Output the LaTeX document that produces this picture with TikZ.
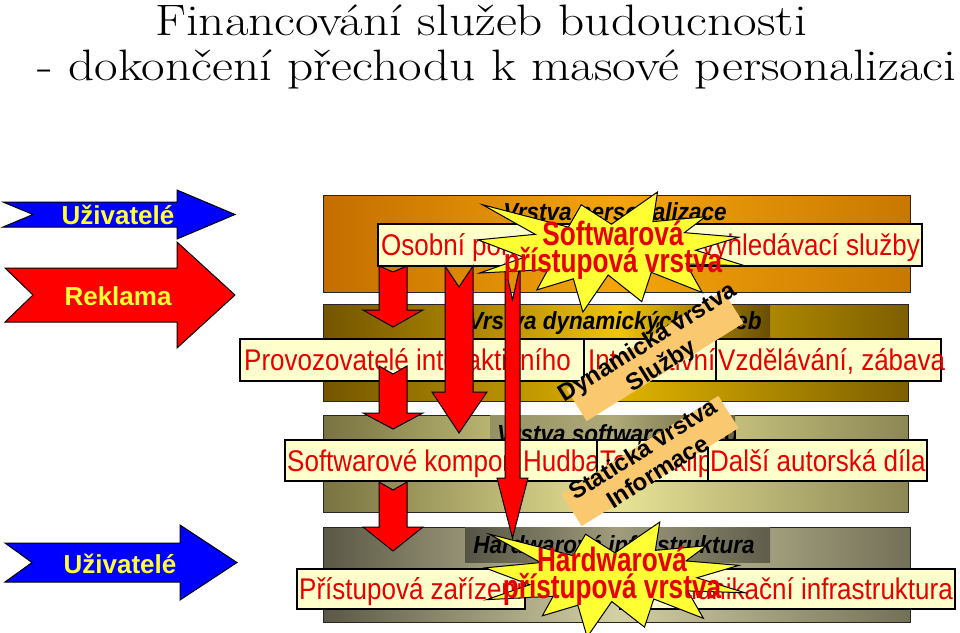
\documentclass[tikz,border=0pt]{standalone}
\usepackage{graphicx}
\usepackage{fontspec}
\setsansfont{Liberation Sans}
\definecolor{creamc}{RGB}{255,255,204}
\definecolor{redt}{RGB}{230,0,0}
\definecolor{ylab}{RGB}{255,255,51}
\definecolor{bannerc}{RGB}{250,200,110}
\definecolor{starc}{RGB}{255,255,51}
\definecolor{arrblue}{RGB}{0,0,255}
\definecolor{arrred}{RGB}{255,0,0}
\definecolor{l1a}{RGB}{195,110,0}\definecolor{l1b}{RGB}{245,165,10}\definecolor{l1c}{RGB}{200,120,0}
\definecolor{l2a}{RGB}{115,85,0}\definecolor{l2b}{RGB}{225,180,0}\definecolor{l2c}{RGB}{125,95,0}
\definecolor{h2a}{RGB}{170,130,0}\definecolor{h2b}{RGB}{240,195,10}\definecolor{h2c}{RGB}{105,78,0}
\definecolor{l3a}{RGB}{120,115,65}\definecolor{l3b}{RGB}{232,228,150}\definecolor{l3c}{RGB}{140,135,85}
\definecolor{h3a}{RGB}{150,145,100}\definecolor{h3b}{RGB}{175,170,120}\definecolor{h3c}{RGB}{105,100,65}
\definecolor{l4a}{RGB}{90,88,70}\definecolor{l4b}{RGB}{212,208,165}\definecolor{l4c}{RGB}{115,112,88}
\definecolor{h4a}{RGB}{85,83,68}\definecolor{h4b}{RGB}{160,156,125}\definecolor{h4c}{RGB}{95,93,75}
\newcommand\rdarrow[8]{%
  \draw[redarr] (#1,#3) -- ({(#1+#2)/2},{#3+#4}) -- (#2,#3) -- (#2,#5) -- (#7,#5) -- ({(#1+#2)/2},#8) -- (#6,#5) -- (#1,#5) -- cycle;}
\newcommand\burstpath{(108,58) -- (145.22,0) -- (141.55,53.25) -- (183.8,44.57) -- (167.02,73.15) -- (210.97,81.37) -- (176.07,104.75) -- (216,132.9) -- (168.37,129.42) -- (181.45,180.95) -- (140.2,144.57) -- (132.47,197.37) -- (105.32,149.35) -- (84.85,216) -- (77.15,156.27) -- (47.62,176.17) -- (56.67,139.37) -- (1.35,145.87) -- (37.22,117.75) -- (0,86.15) -- (46.27,76.17) -- (3.7,22.95) -- (73.12,63.2) -- (83.52,22.95) -- cycle}
\newcommand\tl[1]{\scalebox{1}[1.15]{#1}}
\newcommand\tlh[1]{\scalebox{1}[1.1]{#1}}
\newcommand\tls[1]{\scalebox{0.97}[1.25]{#1}}
\newcommand\wide[1]{\scalebox{1.165}[1]{#1}}
\begin{document}
\begin{tikzpicture}[x=1pt,y=-1pt,
  layer/.style={draw=black!85,line width=0.8pt},
  cream/.style={draw=black,line width=1.2pt,fill=creamc},
  ctext/.style={font=\sffamily\fontsize{26}{28}\selectfont,text=redt,inner sep=0pt},
  htext/.style={font=\sffamily\bfseries\itshape\fontsize{22.5}{24}\selectfont,text=black,inner sep=0pt},
  atext/.style={font=\sffamily\bfseries\fontsize{26}{28}\selectfont,text=ylab,inner sep=0pt},
  stext/.style={font=\sffamily\bfseries\fontsize{27}{29}\selectfont,text=redt,inner sep=0pt,align=center},
  band/.style={fill=bannerc,minimum width=185pt,minimum height=38pt,inner sep=0pt,rotate=32},
  bantext/.style={inner sep=0pt,rotate=32,font=\sffamily\bfseries\fontsize{24}{27}\selectfont,text=black,align=center},
  blockarrow/.style={draw=black,line width=1pt,line join=miter},
  redarr/.style={draw=black,line width=1pt,fill=arrred,line join=miter},
  burst/.style={draw=black,line width=1pt,fill=starc,line join=miter}
]
\useasboundingbox (0,0) rectangle (960,632);
\fill[white] (0,0) rectangle (960,632);
% title
\node[font=\fontsize{44}{50}\selectfont, anchor=base, inner sep=0pt] (t1) at (481,35) {\wide{Financování služeb budoucnosti}};
\node[font=\fontsize{44}{50}\selectfont, anchor=base, inner sep=0pt] (t2) at (497,80) {\wide{- dokončení přechodu k masové personalizaci}};
% left arrows
\draw[blockarrow,fill=arrblue] (3,202) -- (177,202) -- (177,190) -- (235,214.5) -- (177,239) -- (177,227) -- (3,227) -- (33,214.5) -- cycle;
\node[atext] (u1) at (118,215) {Uživatelé};
\draw[blockarrow,fill=arrred] (5,268) -- (177,268) -- (177,242) -- (235,295) -- (177,348) -- (177,322) -- (5,322) -- (33,295) -- cycle;
\node[atext] (rk) at (118,296) {Reklama};
\draw[blockarrow,fill=arrblue] (5,543) -- (180,543) -- (180,525) -- (237,562.5) -- (180,600) -- (180,582) -- (5,582) -- (32,562.5) -- cycle;
\node[atext] (u2) at (120,564) {Uživatelé};
% layer 1
\draw[layer,left color=l1a,right color=l1c,middle color=l1b] (323,195) rectangle (910,292);
\node[htext] (h1) at (615,214) {\tlh{Vrstva personalizace}};
\draw[cream] (378,224) rectangle (655,266);
\node[ctext,anchor=base west] (c11) at (381,255) {\tl{Osobní poradci}};
\draw[cream] (655,224) rectangle (922,266);
\node[ctext,anchor=base east] (c12) at (920,255) {\tl{vyhledávací služby}};
% layer 2
\draw[layer,left color=l2a,right color=l2c,middle color=l2b] (323,304) rectangle (908,401);
\fill[left color=h2a,right color=h2c,middle color=h2b] (468,305) rectangle (770,338);
\node[htext] (h2) at (615,323) {\tlh{Vrstva dynamických služeb}};
\draw[cream] (240,339) rectangle (584,381);
\node[ctext,anchor=base west] (c21) at (244,370) {\tl{Provozovatelé interaktivního}};
\draw[cream] (584,339) rectangle (716,381);
\node[ctext,anchor=base west] (c22) at (588,370) {\tl{Interaktivní}};
\draw[cream] (716,339) rectangle (941,381);
\node[ctext,anchor=base west] (c23) at (718,370) {\tl{Vzdělávání, zábava}};
% layer 3
\draw[layer,left color=l3a,right color=l3c,middle color=l3b] (323,415) rectangle (908,512);
\fill[left color=h3a,right color=h3c,middle color=h3b] (490,415) rectangle (735,448);
\begin{scope}
\clip (490,415) rectangle (735,448);
\node[htext,anchor=west] (h3) at (497,434) {\tlh{Vrstva softwarového obsahu}};
\end{scope}
\draw[cream] (285,440) rectangle (518,481);
\node[ctext,anchor=base west] (c31) at (287,471) {\tl{Softwarové komponenty}};
\draw[cream] (518,440) rectangle (597,481);
\node[ctext,anchor=base west] (c32) at (523,471) {\tl{Hudba}};
\draw[cream] (597,440) rectangle (708,481);
\node[ctext,anchor=base west] (c33) at (600,471) {\tl{Texty, klipy}};
\draw[cream] (708,440) rectangle (927,481);
\node[ctext,anchor=base west] (c34) at (710,471) {\tl{Další autorská díla}};
% layer 4
\draw[layer,left color=l4a,right color=l4c,middle color=l4b] (323,527) rectangle (910,622);
\fill[left color=h4a,right color=h4c,middle color=h4b] (465,527) rectangle (770,562);
\node[htext] (h4) at (614,545) {\tlh{Hardwarová infrastruktura}};
\draw[cream] (297,569) rectangle (525,609);
\node[ctext,anchor=base west] (c41) at (299,599) {\tl{Přístupová zařízení}};
\draw[cream] (620,569) rectangle (955,609);
\node[ctext,anchor=base east] (c42) at (953,599) {\tl{Komunikační infrastruktura}};
% red arrows
\rdarrow{379}{407}{266}{6}{310}{363}{423}{327}
\rdarrow{379}{407}{366}{8}{413}{363}{423}{429}
\rdarrow{379}{407}{482}{8}{527}{363}{423}{551}
\rdarrow{445}{473}{266}{21}{392}{432}{487}{433}
\rdarrow{505}{520}{266}{34}{478}{497}{528}{538}
% banners
\node[band] (bn1) at (655,356) {};
\node[bantext] (bt1) at (655,355) {Dynamická vrstva\\Služby};
\node[band] (bn2) at (650,461) {};
\node[bantext] (bt2) at (650,460) {Statická vrstva\\Informace};
% bursts
\begin{scope}[shift={(478,192)},x=1.2361pt,y=-0.5556pt]
\draw[burst] \burstpath;
\end{scope}
\node[stext] (s1) at (613,250) {\tls{Softwarová}\\[-2pt]\tls{přístupová vrstva}};
\begin{scope}[shift={(485,522)},x=1.2037pt,y=-0.5324pt]
\draw[burst] \burstpath;
\end{scope}
\node[stext] (s2) at (612,576) {\tls{Hardwarová}\\[-2pt]\tls{přístupová vrstva}};
\end{tikzpicture}
\end{document}
